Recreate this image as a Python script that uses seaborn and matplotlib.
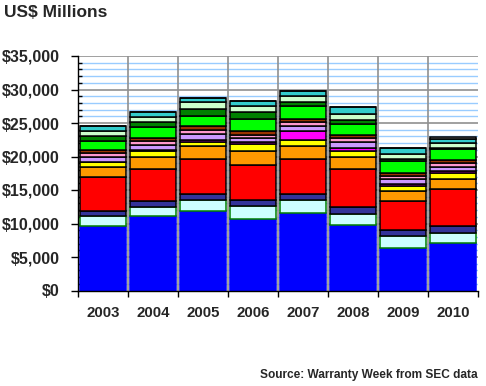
import matplotlib
matplotlib.use('Agg')
import matplotlib.pyplot as plt
import matplotlib.ticker as mticker
import seaborn as sns
import numpy as np
import pandas as pd

# Values in US$ millions (bottom segment first)
years = ['2003', '2004', '2005', '2006', '2007', '2008', '2009', '2010']
seg_blue = [9600, 11100, 11800, 10600, 11500, 9800, 6400, 7100]
seg_cyan = [1500, 1300, 1700, 2000, 2000, 1600, 1700, 1500]
seg_navy = [700, 900, 900, 900, 900, 1000, 900, 1100]
seg_red = [5200, 4800, 5200, 5200, 5200, 5700, 4400, 5400]
seg_orange = [1500, 1800, 1900, 2100, 1900, 1900, 1400, 1600]
seg_yellow = [700, 900, 700, 1000, 900, 800, 800, 800]
seg_magenta = [0, 200, 300, 400, 1400, 400, 300, 400]
seg_lavender = [700, 700, 800, 500, 700, 900, 700, 500]
seg_pink = [600, 600, 600, 500, 600, 600, 500, 600]
seg_brown = [500, 400, 600, 600, 500, 500, 500, 500]
seg_green = [1300, 1700, 1600, 1800, 1900, 1700, 1700, 1600]
seg_dkgreen = [700, 700, 1000, 1000, 700, 500, 300, 200]
seg_ltgreen = [800, 800, 1000, 900, 900, 900, 800, 700]
seg_teal = [800, 800, 600, 800, 700, 1100, 900, 600]
seg_gray = [0, 0, 0, 0, 0, 0, 0, 250]

series = [
    (seg_blue, '#0000ff', '#0000ff'),
    (seg_cyan, '#ccffff', '#008000'),
    (seg_navy, '#333399', 'black'),
    (seg_red, '#ff0000', 'black'),
    (seg_orange, '#ff9900', 'black'),
    (seg_yellow, '#ffff00', 'black'),
    (seg_magenta, '#ff00ff', 'black'),
    (seg_lavender, '#cc99ff', 'black'),
    (seg_pink, '#ff99cc', 'black'),
    (seg_brown, '#993300', 'black'),
    (seg_green, '#00ff00', 'black'),
    (seg_dkgreen, '#008000', 'black'),
    (seg_ltgreen, '#ccffcc', 'black'),
    (seg_teal, '#33cccc', 'black'),
    (seg_gray, '#969696', 'black'),
]

sns.set_style('white')
plt.rcParams['font.family'] = ['Liberation Sans', 'DejaVu Sans']
plt.rcParams['font.weight'] = 'bold'

fig = plt.figure(figsize=(4.86, 3.86), dpi=100)
ax = fig.add_axes([78 / 486, 1 - 290.5 / 386, 400 / 486, 234.5 / 386])

# grid: light blue minor every 1000, grey major every 5000
for v in range(1000, 35000, 1000):
    if v % 5000:
        ax.axhline(v, color='#99ccff', lw=1.0, zorder=0)
for v in range(5000, 35001, 5000):
    ax.axhline(v, color='#909090', lw=1.2, zorder=0)
for b in np.arange(0.5, len(years) - 1, 1.0):
    ax.axvline(b, color='#909090', lw=1.2, zorder=0)

bottom = np.zeros(len(years))
for vals, col, edge in series:
    df = pd.DataFrame({'year': years, 'value': vals})
    sns.barplot(data=df, x='year', y='value', color=col, bottom=bottom,
                width=0.93, edgecolor=edge, linewidth=1.1, saturation=1,
                ax=ax, zorder=2)
    bottom = bottom + np.array(vals)

ax.set_xlim(-0.5, len(years) - 0.5)
ax.set_ylim(0, 35000)
ax.set_xlabel('')
ax.set_ylabel('')

ax.yaxis.set_major_locator(mticker.MultipleLocator(5000))
ax.yaxis.set_minor_locator(mticker.MultipleLocator(1000))
ax.yaxis.set_major_formatter(mticker.StrMethodFormatter('${x:,.0f}'))
ax.tick_params(axis='y', which='major', direction='out', length=5, width=1,
               color='black', labelsize=11.5, pad=8, left=True)
ax.tick_params(axis='y', which='minor', direction='in', length=3, width=1,
               color='black', left=True)

# x ticks at the category boundaries, labels centred
ax.set_xticks(np.arange(-0.5, len(years), 1.0))
ax.set_xticklabels([])
ax.set_xticks(range(len(years)), minor=True)
ax.set_xticklabels(years, minor=True)
ax.tick_params(axis='x', which='major', direction='out', length=4, width=1,
               color='black', bottom=True)
ax.tick_params(axis='x', which='minor', length=0, labelsize=10.8, pad=11)

for s in ['top', 'right']:
    ax.spines[s].set_visible(False)
for s in ['left', 'bottom']:
    ax.spines[s].set_color('black')
    ax.spines[s].set_linewidth(1.0)

fig.text(4 / 486, 1 - 5 / 386, 'US$ Millions', fontsize=12.5, fontweight='bold',
         ha='left', va='top')
fig.text(478 / 486, 1 - 375 / 386, 'Source: Warranty Week from SEC data',
         fontsize=8.6, fontweight='bold', ha='right', va='center')

plt.savefig('out.png', dpi=100)
plt.close()
